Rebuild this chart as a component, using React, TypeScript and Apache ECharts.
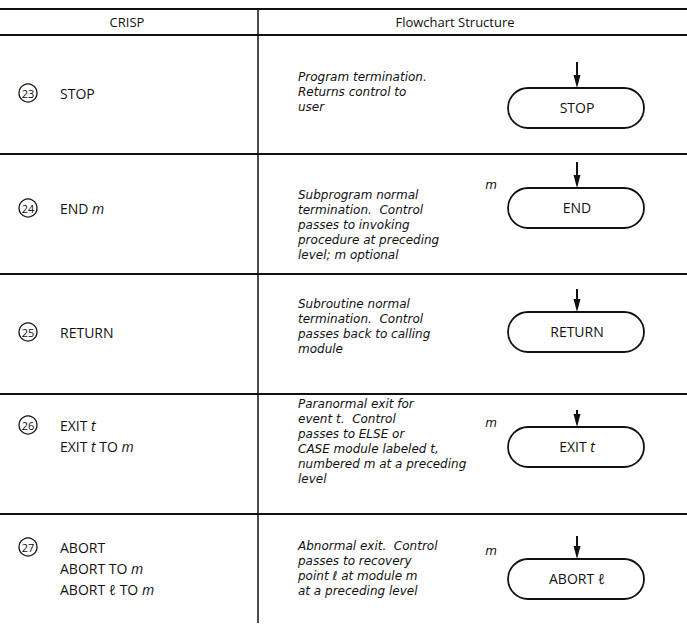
import React, { useEffect, useRef } from "react";
import * as echarts from "echarts";

// ---- content (text) ----
const headerLabels = ["CRISP", "Flowchart Structure"];
const stepNumbers = ["23", "24", "25", "26", "27"];
const crispLines: string[][] = [
  ["STOP"],
  ["END {i|m}"],
  ["RETURN"],
  ["EXIT {i|t}", "EXIT {i|t} TO {i|m}"],
  ["ABORT", "ABORT TO {i|m}", "ABORT {i|ℓ} TO {i|m}"],
];
const descriptions: string[][] = [
  ["Program termination.", "Returns control to", "user"],
  ["Subprogram normal", "termination.  Control", "passes to invoking", "procedure at preceding", "level; m optional"],
  ["Subroutine normal", "termination.  Control", "passes back to calling", "module"],
  ["Paranormal exit for", "event t.  Control", "passes to ELSE or", "CASE module labeled t,", "numbered m at a preceding", "level"],
  ["Abnormal exit.  Control", "passes to recovery", "point ℓ at module m", "at a preceding level"],
];
const boxLabels = ["STOP", "END", "RETURN", "EXIT {i|t}", "ABORT {i|ℓ}"];
const levelMarks = ["", "m", "", "m", "m"];

// ---- layout ----
const W = 687;
const H = 627;
const DIV_X = 258;
const TOP_Y = 9;
const HEAD_Y = 35;
const SEP_YS = [154, 274, 394, 514];
const BOTTOM_Y = 623;
const DESC_GAP = 15;
const rowLayout = [
  { labelY: 93, descY: 77, ovalTop: 88, arrowTop: 62, mY: 0 },
  { labelY: 208, descY: 195, ovalTop: 188, arrowTop: 162, mY: 185 },
  { labelY: 332, descY: 304, ovalTop: 312, arrowTop: 289, mY: 0 },
  { labelY: 425, descY: 404, ovalTop: 427, arrowTop: 410, mY: 423 },
  { labelY: 547, descY: 546, ovalTop: 559, arrowTop: 536, mY: 551 },
];
const OVAL_L = 508;
const OVAL_R = 644;
const OVAL_H = 40;
const ARROW_X = 577;
const M_X = 491;

const F = "'Open Sans', 'DejaVu Sans', sans-serif";
const FD = "'DejaVu Sans', 'Open Sans', sans-serif";
const INK = "#111";

function buildGraphics() {
  const els: any[] = [];
  const line = (x1: number, y1: number, x2: number, y2: number, w = 1.5) =>
    els.push({ type: "line", shape: { x1, y1, x2, y2 }, style: { stroke: INK, lineWidth: w } });

  // table rules
  line(0, TOP_Y, W, TOP_Y, 2);
  line(0, HEAD_Y, W, HEAD_Y, 2);
  SEP_YS.forEach((y) => line(0, y, W, y, 2));
  line(DIV_X, TOP_Y, DIV_X, BOTTOM_Y, 1.5);

  // header
  els.push({
    type: "text",
    style: { x: 127, y: 22, text: headerLabels[0], fill: INK, fontFamily: F, fontSize: 13, align: "center", verticalAlign: "middle" },
  });
  els.push({
    type: "text",
    style: { x: 455, y: 22, text: headerLabels[1], fill: INK, fontFamily: F, fontSize: 13, align: "center", verticalAlign: "middle" },
  });

  const rich = (size: number) => ({
    n: { fontFamily: F, fontSize: size, fill: INK },
    i: { fontFamily: F, fontSize: size, fontStyle: "italic", fill: INK },
  });

  stepNumbers.forEach((num, r) => {
    const L = rowLayout[r];
    // circled number
    els.push({
      type: "circle",
      shape: { cx: 28, cy: L.labelY, r: 9 },
      style: { fill: "none", stroke: INK, lineWidth: 1.3 },
    });
    els.push({
      type: "text",
      style: { x: 28, y: L.labelY + 0.5, text: num, fill: INK, fontFamily: F, fontSize: 11, align: "center", verticalAlign: "middle" },
    });
    // CRISP statements
    crispLines[r].forEach((t, k) => {
      els.push({
        type: "text",
        style: {
          x: 60, y: L.labelY + k * 21, text: t, fill: INK, fontFamily: F, fontSize: 14,
          align: "left", verticalAlign: "middle", rich: rich(14),
        },
      });
    });
    // description
    descriptions[r].forEach((t, k) => {
      els.push({
        type: "text",
        style: {
          x: 298, y: L.descY + k * DESC_GAP, text: t, fill: INK, fontFamily: FD, fontSize: 12,
          fontStyle: "italic", align: "left", verticalAlign: "middle",
        },
      });
    });
    // arrow
    line(ARROW_X, L.arrowTop, ARROW_X, L.ovalTop - 6, 2);
    els.push({
      type: "polygon",
      shape: { points: [[ARROW_X - 3.5, L.ovalTop - 13], [ARROW_X + 3.5, L.ovalTop - 13], [ARROW_X, L.ovalTop]] },
      style: { fill: INK },
    });
    // terminal oval
    els.push({
      type: "rect",
      shape: { x: OVAL_L, y: L.ovalTop, width: OVAL_R - OVAL_L, height: OVAL_H, r: OVAL_H / 2 },
      style: { fill: "none", stroke: INK, lineWidth: 1.8 },
    });
    els.push({
      type: "text",
      style: {
        x: ARROW_X, y: L.ovalTop + OVAL_H / 2 - 1, text: boxLabels[r], fill: INK, fontFamily: F, fontSize: 14,
        align: "center", verticalAlign: "middle", rich: rich(14),
      },
    });
    if (levelMarks[r]) {
      els.push({
        type: "text",
        style: { x: M_X, y: L.mY, text: levelMarks[r], fill: INK, fontFamily: FD, fontSize: 12, fontStyle: "italic", align: "center", verticalAlign: "middle" },
      });
    }
  });
  return els;
}

export default function App() {
  const ref = useRef<HTMLDivElement>(null);
  useEffect(() => {
    if (!ref.current) return;
    const chart = echarts.init(ref.current, undefined, { renderer: "svg" });
    chart.setOption({
      animation: false,
      backgroundColor: "#ffffff",
      graphic: { elements: buildGraphics() },
    });
    return () => chart.dispose();
  }, []);
  return (
    <div
      ref={ref}
      style={{ position: "fixed", left: 0, top: 0, width: W, height: H, background: "#fff" }}
    />
  );
}
